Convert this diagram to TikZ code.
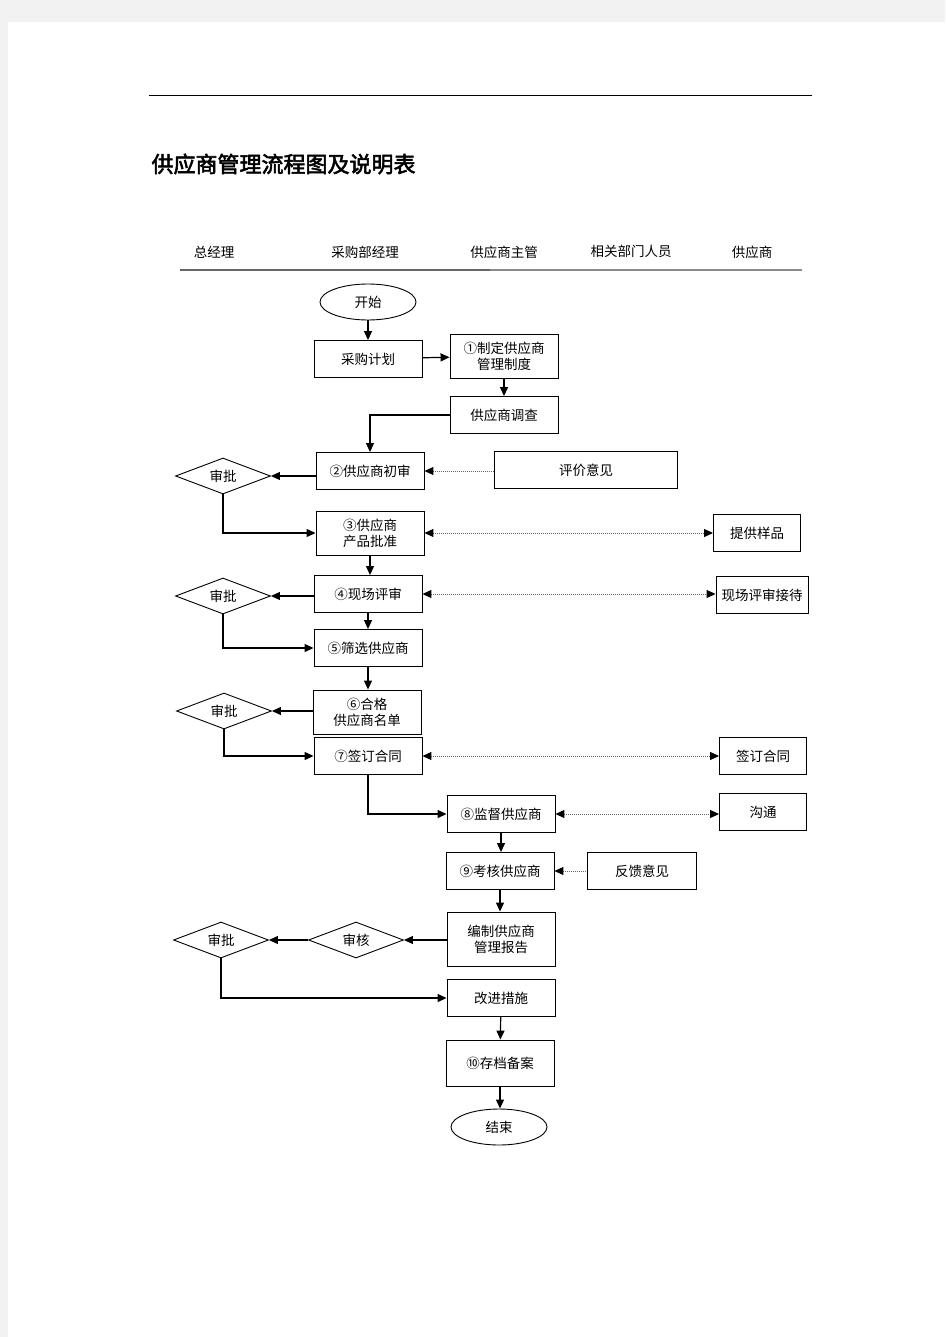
\documentclass[tikz,border=0pt]{standalone}
\usepackage{fontspec}
\newfontfamily\cjk{Noto Sans CJK SC}
\newfontfamily\cjkbold{Noto Sans CJK SC}[FakeBold=2.5]
\usepackage{xcolor}
\usetikzlibrary{positioning, arrows.meta, shapes.geometric}
\definecolor{pagegray}{HTML}{F2F2F2}

\begin{document}
\begin{tikzpicture}[x=1pt, y=-1pt, font=\cjk\fontsize{13.5}{16}\selectfont,
  >={Triangle[length=9pt, width=8pt]},
  box/.style={draw, line width=0.9pt, align=center, inner sep=1pt,
              minimum width=108pt, minimum height=37pt},
  tall/.style={box, minimum height=44pt},
  side/.style={box, minimum width=87pt},
  check/.style={draw, line width=0.9pt, diamond, aspect=2.6, inner sep=0pt,
                minimum width=95pt, minimum height=36pt},
  term/.style={draw, line width=0.9pt, ellipse, minimum width=96pt, minimum height=36pt},
  flow/.style={->, line width=1.2pt},
  info/.style={<->, line width=1pt, dash pattern=on 1pt off 1pt, draw=black!60,
               >={Triangle[length=9pt, width=8pt, color=black]}},
  infoin/.style={info, <-},
]
  \fill[pagegray] (0,0) rectangle (945,1337);
  \fill[white] (8,22) rectangle (945,1337);
  \useasboundingbox (0,0) rectangle (945,1337);

  % page head and title
  \draw[line width=0.9pt] (149,95) -- (812,95);
  \node[anchor=west, font=\cjkbold\fontsize{22}{26}\selectfont] (title) at (148,164) {供应商管理流程图及说明表};

  % lanes
  \node (hGM)   at (214,252) {总经理};
  \node (hBuy)  at (365,252) {采购部经理};
  \node (hSup)  at (504,252) {供应商主管};
  \node (hDept) at (631,251) {相关部门人员};
  \node (hVend) at (752,252) {供应商};
  \draw[line width=1.6pt, black!60] (180,270) -- (490,270);
  \draw[line width=1.2pt, black!45] (490,270) -- (802,270);

  % main flow
  \node[term] (start)  at (368,302)  {开始};
  \node[box]  (plan)   at (368,359)  {采购计划};
  \node[tall] (rule)   at (504,356)  {①制定供应商\\管理制度};
  \node[box]  (survey) at (504,415)  {供应商调查};
  \node[box]  (pre)    at (370,471)  {②供应商初审};
  \node[box, minimum width=183pt] (eval) at (586,470) {评价意见};
  \node[tall] (prod)   at (370,533)  {③供应商\\产品批准};
  \node[side] (sample) at (757,533)  {提供样品};
  \node[box]  (site)   at (368,594)  {④现场评审};
  \node[side, minimum width=92pt] (host) at (762,595) {现场评审接待};
  \node[box]  (pick)   at (368,648)  {⑤筛选供应商};
  \node[tall] (list)   at (367,712)  {⑥合格\\供应商名单};
  \node[box]  (sign)   at (368,756)  {⑦签订合同};
  \node[side] (vsign)  at (763,756)  {签订合同};
  \node[box]  (watch)  at (501,814)  {⑧监督供应商};
  \node[side] (talk)   at (763,812)  {沟通};
  \node[box]  (rate)   at (500,871)  {⑨考核供应商};
  \node[side, minimum width=109pt] (feed) at (642,871) {反馈意见};
  \node[box, minimum height=54pt] (report) at (501,939) {编制供应商\\管理报告};
  \node[box]  (fix)    at (501,998)  {改进措施};
  \node[box, minimum height=46pt] (file) at (500,1063) {⑩存档备案};
  \node[term] (stop)   at (499,1127) {结束};

  % approvals
  \node[check] (ok1)    at (223,476) {审批};
  \node[check] (ok2)    at (223,596) {审批};
  \node[check] (ok3)    at (224,711) {审批};
  \node[check] (review) at (356,940) {审核};
  \node[check] (ok4)    at (221,940) {审批};

  % connectors
  \draw[flow] (start) -- (plan);
  \draw[flow] (plan) -- (rule);
  \draw[flow] (rule) -- (survey);
  \draw[flow] (survey.west) -| (pre.north);
  \draw[flow] (pre.west |- ok1.east) -- (ok1.east);
  \draw[flow] (ok1.south) |- (prod.west);
  \draw[flow] (prod.south) -- (prod.south |- site.north);
  \draw[flow] (site.west |- ok2.east) -- (ok2.east);
  \draw[flow] (ok2.south) |- (pick.west);
  \draw[flow] (site) -- (pick);
  \draw[flow] (pick.south) -- (pick.south |- list.north);
  \draw[flow] (list.west |- ok3.east) -- (ok3.east);
  \draw[flow] (ok3.south) |- (sign.west);
  \draw[flow] (sign.south) |- (watch.west);
  \draw[flow] (watch.south) -- (watch.south |- rate.north);
  \draw[flow] (rate.south) -- (rate.south |- report.north);
  \draw[flow] (report.west |- review.east) -- (review.east);
  \draw[flow] (review) -- (ok4);
  \draw[flow] (ok4.south) |- (fix.west);
  \draw[flow] (fix) -- (file);
  \draw[flow] (file.south) -- (file.south |- stop.north);

  \draw[infoin] (pre.east) -- (pre.east -| eval.west);
  \draw[info] (prod.east) -- (prod.east -| sample.west);
  \draw[info] (site.east) -- (site.east -| host.west);
  \draw[info] (sign.east) -- (sign.east -| vsign.west);
  \draw[info] (watch.east) -- (watch.east -| talk.west);
  \draw[infoin] (rate.east) -- (rate.east -| feed.west);
\end{tikzpicture}
\end{document}
